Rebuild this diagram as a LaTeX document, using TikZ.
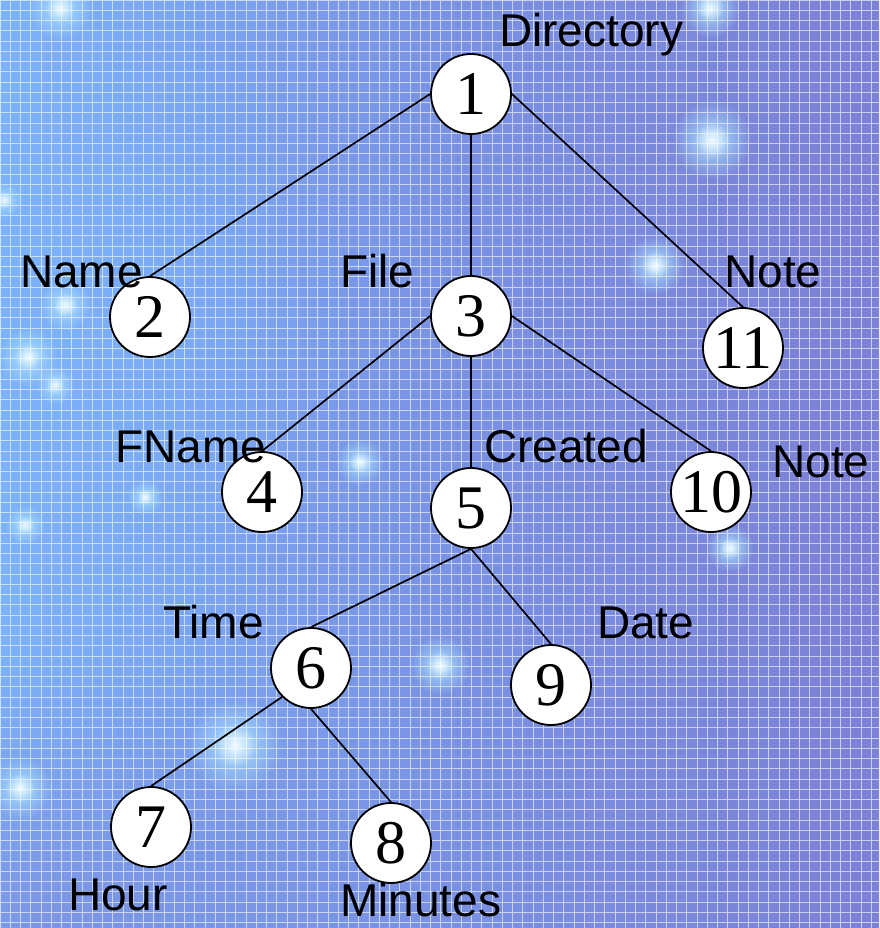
\documentclass[tikz,border=0pt]{standalone}
\usepackage{fontspec}
\setmainfont{Liberation Serif}
\newfontfamily\labfont{Liberation Sans}
\usetikzlibrary{fadings}
\tikzfading[name=glowfade, inner color=transparent!0, outer color=transparent!100]
\definecolor{bgL}{RGB}{124,178,250}
\definecolor{bgM}{RGB}{122,146,228}
\definecolor{bgR}{RGB}{124,128,214}
\definecolor{glowc}{RGB}{170,225,255}
\tikzset{
  num/.style={circle, draw=black, line width=1.8pt, fill=white, minimum size=80pt, inner sep=0pt, font=\fontsize{62}{62}\selectfont},
  lab/.style={anchor=base west, inner sep=0pt, font=\labfont\fontsize{46}{46}\selectfont},
  edge/.style={line width=1.7pt, black},
  glow/.style={fill=glowc, path fading=glowfade},
}
\begin{document}
\begin{tikzpicture}[x=1pt,y=-1pt]
\useasboundingbox (0,0) rectangle (879,928);
% background
\shade[left color=bgL, right color=bgR, middle color=bgM] (0,0) rectangle (879,928);
\fill[bgR, path fading=glowfade, opacity=0.6] (60,950) ellipse (420 and 300);
\fill[bgL, path fading=glowfade, opacity=0.7] (40,330) ellipse (320 and 380);
% glows
\foreach \gx/\gy/\gr in {710/8/30, 712/140/40, 655/265/30, 65/305/26, 28/357/30, 55/385/20, 4/200/18, 360/462/24, 25/525/20, 145/497/18, 730/548/24, 440/665/30, 235/745/48, 20/788/32, 60/8/32}{
  \fill[glow] (\gx,\gy) circle (\gr);
  \fill[white, path fading=glowfade, opacity=0.8] (\gx,\gy) circle (0.45*\gr);
}
% grid
\draw[white, opacity=0.6, line width=0.9pt] (0,0) grid[step=10.25pt] (879,928);
% nodes
\node[num] (n1) at (471,94) {1};
\node[num] (n2) at (150,317) {2};
\node[num] (n3) at (471,316) {3};
\node[num] (n11) at (743,348) {11};
\node[num] (n4) at (262,492) {4};
\node[num] (n5) at (471,508) {5};
\node[num] (n10) at (711,492) {10};
\node[num] (n6) at (311,668) {6};
\node[num] (n9) at (551,685) {9};
\node[num] (n7) at (151,827) {7};
\node[num] (n8) at (391,843) {8};
% edges
\draw[edge] (n1.west) -- (n2.north);
\draw[edge] (n1.south) -- (n3.north);
\draw[edge] (n1.east) -- (n11.north);
\draw[edge] (n3.west) -- (n4.north);
\draw[edge] (n3.south) -- (n5.north);
\draw[edge] (n3.east) -- (n10.north);
\draw[edge] (n5.south) -- (n6.north);
\draw[edge] (n5.south) -- (n9.north);
\draw[edge] (n6.south west) -- (n7.north);
\draw[edge] (n6.south) -- (n8.north);
% labels
\node[lab] (l1) at (499,47) {Directory};
\node[lab] (l2) at (20,287) {Name};
\node[lab] (l3) at (340,287) {File};
\node[lab] (l11) at (724,287) {Note};
\node[lab] (l4) at (115,462) {FName};
\node[lab] (l5) at (484,462) {Created};
\node[lab] (l10) at (772,477) {Note};
\node[lab] (l6) at (163,638) {Time};
\node[lab] (l9) at (597,638) {Date};
\node[lab] (l7) at (68,910) {Hour};
\node[lab] (l8) at (340,916) {Minutes};
\end{tikzpicture}
\end{document}
